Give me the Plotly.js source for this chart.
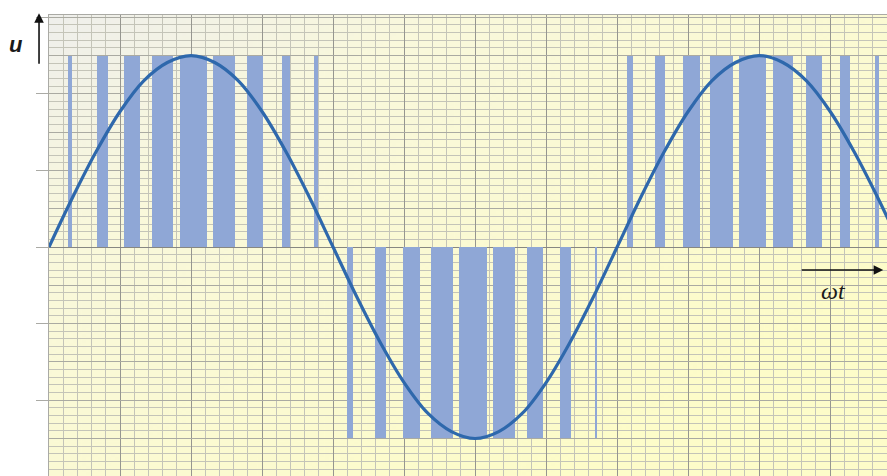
<!DOCTYPE html>
<html>
<head>
<meta charset="utf-8">
<script src="https://cdn.plot.ly/plotly-3.0.1.min.js"></script>
<style>html,body{margin:0;padding:0;background:#fff;overflow:hidden}#chart{width:887px;height:476px}</style>
</head>
<body>
<div id="chart"></div>
<script>
// PWM pulses (angle in degrees, level in units)
const pulseStart = [11.9, 30.2, 47.7, 65.5, 83.0, 103.8, 125.7, 147.5, 168.0,
                    188.7, 206.6, 224.2, 241.8, 260.0, 281.6, 302.8, 323.9, 345.7,
                    366.3, 383.8, 401.6, 419.1, 436.9, 458.7, 479.6, 500.9, 523.5];
const pulseEnd   = [14.4, 37.6, 57.7, 78.8, 100.0, 117.9, 135.4, 152.7, 170.7,
                    192.7, 213.3, 235.1, 256.1, 277.6, 295.4, 313.3, 330.8, 347.3,
                    369.8, 390.4, 412.4, 433.5, 454.4, 471.7, 489.7, 507.5, 526.0];
const pulseLevel = [2.5, 2.5, 2.5, 2.5, 2.5, 2.5, 2.5, 2.5, 2.5,
                    -2.5, -2.5, -2.5, -2.5, -2.5, -2.5, -2.5, -2.5, -2.5,
                    2.5, 2.5, 2.5, 2.5, 2.5, 2.5, 2.5, 2.5, 2.5];

// Reference wave, every 15 degrees
const waveAngle = [0, 15, 30, 45, 60, 75, 90, 105, 120, 135, 150, 165, 180,
                   195, 210, 225, 240, 255, 270, 285, 300, 315, 330, 345, 360,
                   375, 390, 405, 420, 435, 450, 465, 480, 495, 510, 525, 540];
const waveValue = [0, 0.65, 1.25, 1.77, 2.17, 2.41, 2.5, 2.41, 2.17, 1.77, 1.25, 0.65, 0,
                   -0.65, -1.25, -1.77, -2.17, -2.41, -2.5, -2.41, -2.17, -1.77, -1.25, -0.65, 0,
                   0.65, 1.25, 1.77, 2.17, 2.41, 2.5, 2.41, 2.17, 1.77, 1.25, 0.65, 0];

const yLabel = 'u';
const xLabel = 'ωt';

// background gradient image (built locally)
const cv = document.createElement('canvas');
cv.width = 400; cv.height = 300;
const ctx = cv.getContext('2d');
const g = ctx.createLinearGradient(0, 0, 240, 300);
g.addColorStop(0, '#efefec');
g.addColorStop(0.3, '#f9f8dc');
g.addColorStop(1, '#fdfcc9');
ctx.fillStyle = g;
ctx.fillRect(0, 0, 400, 300);
const bgURL = cv.toDataURL('image/png');

const barX = pulseStart.map((s, i) => (s + pulseEnd[i]) / 2);
const barW = pulseStart.map((s, i) => pulseEnd[i] - s);

const traces = [
  {
    type: 'bar', x: barX, y: pulseLevel, width: barW,
    marker: {color: 'rgb(143,167,214)', line: {width: 0}},
    hoverinfo: 'skip'
  },
  {
    type: 'scatter', mode: 'lines', x: waveAngle, y: waveValue,
    line: {color: 'rgb(46,104,172)', width: 3.2, shape: 'spline', smoothing: 1},
    hoverinfo: 'skip'
  },
  {
    type: 'scatter', mode: 'lines', x: [0], y: [0], yaxis: 'y2',
    showlegend: false, hoverinfo: 'skip', line: {width: 0}
  }
];

const yRange = [-2.99, 3.03];
const layout = {
  width: 887, height: 476,
  margin: {l: 49, r: 0, t: 15, b: 0, pad: 0},
  paper_bgcolor: '#ffffff',
  plot_bgcolor: '#fdfcc9',
  showlegend: false,
  bargap: 0,
  xaxis: {
    range: [0, 531], tick0: 0, dtick: 45,
    showgrid: true, gridcolor: 'rgb(150,150,144)', gridwidth: 1,
    minor: {dtick: 9, showgrid: true, gridcolor: 'rgb(196,196,184)', gridwidth: 1},
    showticklabels: false, ticks: '', zeroline: false,
    showline: true, linecolor: 'rgb(170,170,165)', mirror: true
  },
  yaxis: {
    range: yRange, tick0: 0, dtick: 1,
    showgrid: true, gridcolor: 'rgb(145,145,140)', gridwidth: 1,
    minor: {dtick: 0.1, showgrid: true, gridcolor: 'rgb(196,196,184)', gridwidth: 1},
    showticklabels: false, ticks: 'outside', ticklen: 12, tickcolor: 'rgb(170,170,165)',
    zeroline: true, zerolinecolor: 'rgb(135,135,130)', zerolinewidth: 1,
    showline: true, linecolor: 'rgb(170,170,165)', mirror: true
  },
  yaxis2: {
    overlaying: 'y', range: yRange, tick0: 0, dtick: 0.5,
    showgrid: true, gridcolor: 'rgb(170,170,162)', gridwidth: 1,
    showticklabels: false, ticks: '', zeroline: false, showline: false
  },
  images: [{
    source: bgURL, xref: 'paper', yref: 'paper', x: 0, y: 1,
    sizex: 1, sizey: 1, sizing: 'stretch', layer: 'below'
  }],
  annotations: [
    {
      xref: 'paper', yref: 'paper', x: -0.039, y: 0.937,
      text: '<b><i>' + yLabel + '</i></b>', showarrow: false,
      font: {family: 'Liberation Sans, Arial, sans-serif', size: 22, color: '#1a1a1a'},
      xanchor: 'center', yanchor: 'middle'
    },
    {
      xref: 'paper', yref: 'paper', x: -0.0119, y: 1.004,
      text: '', showarrow: true, ax: 0, ay: 52, axref: 'pixel', ayref: 'pixel',
      arrowhead: 2, arrowsize: 1.2, arrowwidth: 1.6, arrowcolor: '#111', standoff: 0
    },
    {
      xref: 'x', yref: 'y', x: 528.6, y: -0.30,
      text: '', showarrow: true, ax: -83, ay: 0,
      arrowhead: 2, arrowsize: 1.2, arrowwidth: 1.6, arrowcolor: '#111', standoff: 0
    },
    {
      xref: 'x', yref: 'y', x: 496.9, y: -0.575,
      text: '<i>' + xLabel + '</i>', showarrow: false,
      font: {family: 'Liberation Serif, Times New Roman, serif', size: 24, color: '#1a1a1a'},
      xanchor: 'center', yanchor: 'middle'
    }
  ]
};

Plotly.newPlot('chart', traces, layout, {displayModeBar: false, staticPlot: true});
</script>
</body>
</html>
